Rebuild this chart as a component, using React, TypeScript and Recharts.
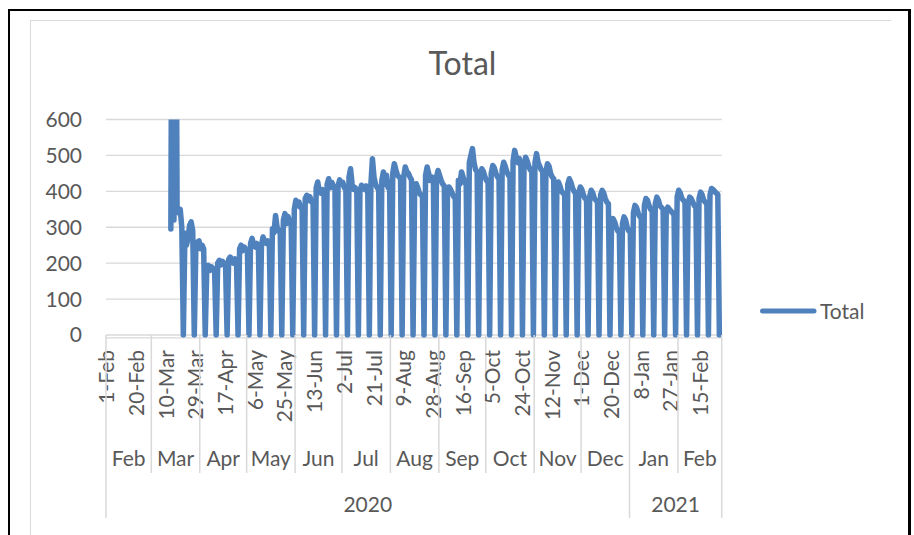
import React from 'react';
import { LineChart, Line, XAxis, YAxis, CartesianGrid, Legend } from 'recharts';

// ---------- data ----------
const MONTHS = ['Jan', 'Feb', 'Mar', 'Apr', 'May', 'Jun', 'Jul', 'Aug', 'Sep', 'Oct', 'Nov', 'Dec'];
const FIRST_DAY_UTC = Date.UTC(2020, 1, 1); // 1-Feb-2020
const DAY_COUNT = 394; // 1-Feb-2020 .. 28-Feb-2021
const DAY_LABEL_EVERY = 19;
const Y_TICKS = [0, 100, 200, 300, 400, 500, 600];

// days with no value before the series starts (1-Feb .. 12-Mar)
const LEADING_EMPTY_DAYS = 41;
// 13-Mar .. 21-Mar
const MARCH_START: number[] = [295, 1500, 320, 1400, 345, 340, 350, 300, 0];
// weeks Sun..Sat, from 22-Mar-2020 to 27-Feb-2021
const WEEKS: number[][] = [
  [283, 250, 270, 305, 315, 290, 0],
  [245, 259, 262, 240, 250, 240, 0],
  [186, 194, 180, 190, 185, 180, 0],
  [200, 208, 195, 205, 200, 196, 0],
  [210, 217, 205, 200, 212, 205, 0],
  [240, 250, 235, 245, 238, 232, 0],
  [255, 269, 250, 245, 255, 248, 0],
  [250, 273, 260, 255, 262, 255, 0],
  [296, 285, 333, 300, 290, 285, 0],
  [320, 338, 310, 330, 315, 310, 0],
  [350, 375, 360, 370, 355, 350, 0],
  [380, 389, 375, 385, 370, 368, 0],
  [410, 426, 400, 395, 405, 398, 0],
  [420, 435, 410, 425, 415, 410, 0],
  [415, 432, 420, 425, 410, 405, 0],
  [440, 463, 420, 405, 410, 402, 0],
  [400, 417, 410, 405, 415, 405, 0],
  [420, 491, 440, 420, 410, 405, 0],
  [430, 454, 420, 445, 410, 408, 0],
  [450, 477, 460, 445, 440, 435, 0],
  [440, 468, 455, 450, 440, 432, 0],
  [400, 421, 410, 395, 390, 385, 0],
  [445, 468, 450, 430, 440, 430, 0],
  [440, 458, 444, 430, 420, 415, 0],
  [390, 412, 405, 395, 385, 380, 0],
  [431, 420, 454, 440, 425, 420, 0],
  [480, 500, 519, 480, 460, 455, 0],
  [440, 463, 455, 440, 430, 425, 0],
  [450, 472, 465, 450, 440, 436, 0],
  [460, 481, 470, 455, 445, 440, 0],
  [485, 514, 495, 480, 491, 470, 0],
  [470, 495, 485, 470, 460, 455, 0],
  [480, 505, 481, 470, 460, 455, 0],
  [455, 477, 470, 450, 440, 435, 0],
  [405, 426, 415, 400, 395, 390, 0],
  [420, 435, 425, 410, 400, 395, 0],
  [395, 412, 405, 390, 380, 378, 0],
  [385, 403, 395, 380, 375, 370, 0],
  [390, 403, 395, 380, 370, 365, 0],
  [305, 324, 315, 300, 290, 285, 0],
  [310, 329, 320, 300, 290, 288, 0],
  [340, 361, 355, 340, 330, 328, 0],
  [360, 380, 375, 360, 350, 345, 0],
  [365, 384, 375, 360, 355, 350, 0],
  [340, 356, 350, 345, 340, 335, 0],
  [385, 403, 395, 380, 375, 370, 0],
  [365, 384, 380, 370, 360, 355, 0],
  [380, 398, 390, 375, 370, 365, 0],
  [390, 408, 405, 400, 395, 392, 0],
];
// 28-Feb-2021 has no value
const TRAILING: (number | null)[] = [null];

const totals: (number | null)[] = [
  ...Array(LEADING_EMPTY_DAYS).fill(null),
  ...MARCH_START,
  ...WEEKS.flat(),
  ...TRAILING,
];

const DAYS = Array.from({ length: DAY_COUNT }, (_, i) => {
  const dt = new Date(FIRST_DAY_UTC + i * 86400000);
  return { d: dt.getUTCDate(), m: dt.getUTCMonth(), y: dt.getUTCFullYear() };
});

const data = DAYS.map((D, i) => ({
  idx: i,
  label: `${D.d}-${MONTHS[D.m]}`,
  total: totals[i],
}));

type Group = { start: number; count: number; name: string };
const monthGroups: Group[] = [];
const yearGroups: Group[] = [];
DAYS.forEach((D, i) => {
  const mName = MONTHS[D.m];
  const lastM = monthGroups[monthGroups.length - 1];
  if (!lastM || DAYS[lastM.start].m !== D.m) monthGroups.push({ start: i, count: 1, name: mName });
  else lastM.count++;
  const lastY = yearGroups[yearGroups.length - 1];
  if (!lastY || lastY.name !== String(D.y)) yearGroups.push({ start: i, count: 1, name: String(D.y) });
  else lastY.count++;
});
const monthByStart = new Map(monthGroups.map((g) => [g.start, g]));
const yearByStart = new Map(yearGroups.map((g) => [g.start, g]));

// ---------- style ----------
const FONT = 'Lato, "Open Sans", sans-serif';
const TEXT = '#595959';
const GRID = '#D9D9D9';
const BLUE = '#4F81BD';
const ZERO_PAD = 8; // domain units below zero so the thick line is not cut at 0

const DateTick = (props: any) => {
  const { x, y, index, width } = props;
  const band = (typeof width === 'number' && width > 0 ? width : 615.7) / DAY_COUNT;
  const z = y - ZERO_PAD * 0.3592;
  const left = x - band / 2;
  const right = x + band / 2;
  const els: React.ReactNode[] = [];
  const d = data[index];
  if (!d) return null;
  if (index % DAY_LABEL_EVERY === 0) {
    els.push(
      <text
        key="d"
        x={x}
        y={z + 15}
        dy="0.36em"
        textAnchor="end"
        transform={`rotate(-90 ${x} ${z + 15})`}
        fill={TEXT}
        fontSize={21}
        fontFamily={FONT}
      >
        {d.label}
      </text>
    );
  }
  const mg = monthByStart.get(index);
  const yg = yearByStart.get(index);
  if (mg) {
    els.push(
      <line key="md" x1={left} x2={left} y1={z} y2={yg ? z + 183 : z + 138} stroke={GRID} strokeWidth={1.5} />
    );
    els.push(
      <text
        key="ml"
        x={left + (mg.count * band) / 2}
        y={z + 123}
        dy="0.36em"
        textAnchor="middle"
        fill={TEXT}
        fontSize={21}
        fontFamily={FONT}
      >
        {mg.name}
      </text>
    );
  }
  if (yg) {
    els.push(
      <text
        key="yl"
        x={left + (yg.count * band) / 2}
        y={z + 169}
        dy="0.36em"
        textAnchor="middle"
        fill={TEXT}
        fontSize={21}
        fontFamily={FONT}
      >
        {yg.name}
      </text>
    );
  }
  if (index === DAY_COUNT - 1) {
    els.push(<line key="end" x1={right} x2={right} y1={z} y2={z + 183} stroke={GRID} strokeWidth={1.5} />);
  }
  return <g>{els}</g>;
};

const LegendContent = (props: any) => {
  const item = props.payload && props.payload[0];
  return (
    <div style={{ display: 'flex', alignItems: 'center', fontFamily: FONT, fontSize: 21, color: TEXT }}>
      <svg width={62} height={12} style={{ display: 'block' }}>
        <line x1={5.5} x2={57} y1={6} y2={6} stroke={item ? item.color : BLUE} strokeWidth={5} strokeLinecap="round" />
      </svg>
      <span style={{ marginLeft: 1, lineHeight: '26px' }}>{item ? item.value : 'Total'}</span>
    </div>
  );
};

export default function App() {
  return (
    <div style={{ position: 'absolute', left: 0, top: 0, width: 914, height: 535, overflow: 'hidden', background: '#fff' }}>
      {/* outer black frame */}
      <div
        style={{
          position: 'absolute',
          left: 8,
          top: 9,
          width: 903,
          height: 540,
          boxSizing: 'border-box',
          borderLeft: '2.5px solid #000',
          borderTop: '2.5px solid #000',
          borderRight: '3px solid #000',
        }}
      />
      {/* chart area border */}
      <div
        style={{
          position: 'absolute',
          left: 30,
          top: 20,
          width: 861,
          height: 530,
          boxSizing: 'border-box',
          borderLeft: `1px solid ${GRID}`,
          borderTop: `1.5px solid ${GRID}`,
        }}
      />
      <div
        style={{
          position: 'absolute',
          left: 0,
          top: 43,
          width: 925,
          height: 40,
          lineHeight: '40px',
          textAlign: 'center',
          fontFamily: FONT,
          fontSize: 32,
          color: TEXT,
        }}
      >
        Total
      </div>
      <div style={{ position: 'absolute', left: 0, top: 0 }}>
        <LineChart
          width={914}
          height={535}
          data={data}
          margin={{ top: 119.5, right: 192.3, bottom: 167.13, left: 0 }}
        >
          <CartesianGrid horizontal vertical={false} stroke={GRID} strokeWidth={1.4} />
          <XAxis
            dataKey="idx"
            type="category"
            interval={0}
            height={30}
            axisLine={false}
            tickLine={false}
            tickSize={0}
            tickMargin={0}
            padding={{ left: 0.78, right: 0.78 }}
            tick={(p: any) => <DateTick {...p} />}
          />
          <YAxis
            width={106}
            domain={[-ZERO_PAD, 600]}
            ticks={Y_TICKS}
            allowDataOverflow
            axisLine={false}
            tickLine={false}
            tickSize={0}
            tickMargin={24}
            tick={{ fill: TEXT, fontSize: 21, fontFamily: FONT }}
          />
          <Line
            name="Total"
            dataKey="total"
            type="linear"
            stroke={BLUE}
            strokeWidth={5.5}
            strokeLinejoin="round"
            strokeLinecap="round"
            dot={false}
            activeDot={false}
            connectNulls={false}
            isAnimationActive={false}
          />
          <Legend
            layout="horizontal"
            align="center"
            verticalAlign="middle"
            wrapperStyle={{ left: 757, top: 298, width: 140, height: 28 }}
            content={(p: any) => <LegendContent {...p} />}
          />
        </LineChart>
      </div>
    </div>
  );
}
